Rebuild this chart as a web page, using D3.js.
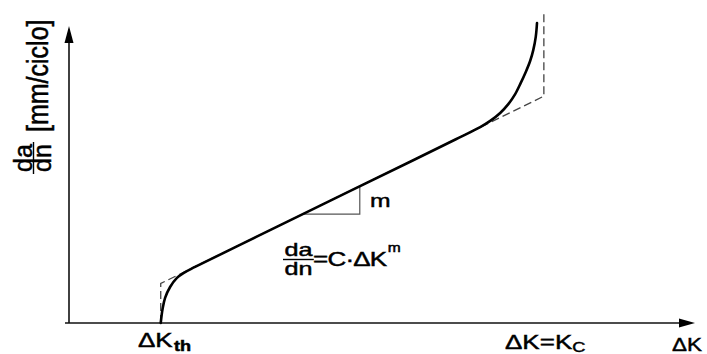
<!DOCTYPE html>
<html lang="en">
<head>
    <meta charset="UTF-8">
    <title>da/dn vs ΔK</title>
    <script src="https://d3js.org/d3.v7.min.js"></script>
    <style>
        body { margin: 0; background: #fff; }
        text { font-family: "Liberation Sans", Arial, sans-serif; fill: #000; stroke: #000; stroke-width: 0.45; }
    </style>
</head>
<body>
    <div id="chart"></div>
    <script>
        // Schematic crack growth curve (abstract units)
        const curveK    = [14.7, 15.0, 15.4, 16.2, 17.3, 18.4, 20.2, 30.0, 45.0, 55.0, 62.0, 65.9,
                           67.5, 69.1, 70.4, 71.5, 72.4, 73.2, 73.9, 74.4, 74.8, 75.0];
        const curveRate = [0.0, 4.8, 8.5, 12.2, 15.3, 17.0, 19.0, 29.2, 44.7, 55.0, 62.3, 66.4,
                           68.5, 71.2, 74.2, 77.6, 81.4, 85.1, 88.8, 92.5, 97.0, 101.7];

        // Asymptotes (dashed): threshold, Paris line, critical
        const asymK    = [14.7, 14.7, 76.1, 76.1];
        const asymRate = [0.0, 13.4, 76.9, 104.8];

        // Slope triangle on the Paris line
        const triK    = [37.5, 46.6, 46.6];
        const triRate = [36.9, 36.9, 46.3];

        const xLabelKth = ["ΔK", "th"];
        const xLabelKc  = ["ΔK=K", "C"];
        const xAxisLabel = "ΔK";
        const yLabelFrac = ["da", "dn"];
        const yLabelUnit = "[mm/ciclo]";

        const width = 707;
        const height = 354;

        const svg = d3.select("#chart")
            .append("svg")
            .attr("width", width)
            .attr("height", height);

        const xScale = d3.scaleLinear().domain([0, 100]).range([69, 693]);
        const yScale = d3.scaleLinear().domain([0, 100]).range([323, 28]);

        // Axes with arrows
        const x0 = xScale(0), y0 = yScale(0);
        svg.append("line")
            .attr("x1", x0 - 4).attr("y1", y0)
            .attr("x2", 683).attr("y2", y0)
            .attr("stroke", "#111").attr("stroke-width", 1.6);
        svg.append("path")
            .attr("d", `M695,${y0} L679,${y0 - 4.5} L679,${y0 + 4.5} Z`)
            .attr("fill", "#000");

        svg.append("line")
            .attr("x1", x0).attr("y1", y0)
            .attr("x2", x0).attr("y2", 38)
            .attr("stroke", "#111").attr("stroke-width", 1.6);
        svg.append("path")
            .attr("d", `M${x0},26 L${x0 - 4.5},43 L${x0 + 4.5},43 Z`)
            .attr("fill", "#000");

        const line = d3.line().x(d => xScale(d[0])).y(d => yScale(d[1]));

        // Dashed asymptotes
        const asymData = asymK.map((k, i) => [k, asymRate[i]]);
        svg.append("path")
            .attr("d", line(asymData))
            .attr("fill", "none")
            .attr("stroke", "#444")
            .attr("stroke-width", 1.3)
            .attr("stroke-dasharray", "8,4");

        // Slope triangle
        const triData = triK.map((k, i) => [k, triRate[i]]);
        svg.append("path")
            .attr("d", line(triData))
            .attr("fill", "none")
            .attr("stroke", "#555")
            .attr("stroke-width", 1.2);

        // Main curve
        const curveData = curveK.map((k, i) => [k, curveRate[i]]);
        svg.append("path")
            .attr("d", d3.line()
                .x(d => xScale(d[0]))
                .y(d => yScale(d[1]))
                .curve(d3.curveCatmullRom.alpha(0.5))(curveData))
            .attr("fill", "none")
            .attr("stroke", "#000")
            .attr("stroke-width", 2.6)
            .attr("stroke-linecap", "round");

        // Labels (the source lettering is wide, so stretch horizontally)
        function stretched(x, y, s = 1.3) {
            return svg.append("g").attr("transform", `translate(${x},${y}) scale(${s},1)`);
        }

        const kth = stretched(138, 347).append("text").attr("font-size", 20);
        kth.append("tspan").text(xLabelKth[0]);
        kth.append("tspan").attr("font-size", 14).attr("font-weight", "bold")
            .attr("dx", 1).attr("dy", 4).text(xLabelKth[1]);

        const kc = stretched(505, 349).append("text").attr("font-size", 20);
        kc.append("tspan").text(xLabelKc[0]);
        kc.append("tspan").attr("font-size", 14).attr("dy", 3).text(xLabelKc[1]);

        stretched(672, 351, 1.18).append("text").attr("font-size", 19).text(xAxisLabel);

        stretched(370, 207).append("text").attr("font-size", 19).text("m");

        // Paris law formula
        const f = stretched(283, 0, 1.4);
        f.append("text").attr("x", 1).attr("y", 256.5).attr("font-size", 18).text("da");
        f.append("line").attr("x1", 0).attr("x2", 22).attr("y1", 259.5).attr("y2", 259.5)
            .attr("stroke", "#000").attr("stroke-width", 1.4);
        f.append("text").attr("x", 1).attr("y", 275.5).attr("font-size", 18).text("dn");
        const rhs = svg.append("g").attr("transform", "translate(313,266) scale(1.3,1)")
            .append("text").attr("font-size", 20).attr("letter-spacing", -0.6);
        rhs.append("tspan").text("=C·ΔK");
        rhs.append("tspan").attr("font-size", 12).attr("dy", -14).attr("dx", 1).text("m");

        // Y axis label, rotated
        const frac = svg.append("g").attr("transform", "translate(33.5,158) rotate(-90)");
        frac.append("text").attr("text-anchor", "middle").attr("y", -2).attr("font-size", 25).text(yLabelFrac[0]);
        frac.append("text").attr("text-anchor", "middle").attr("y", 17.5).attr("font-size", 25).text(yLabelFrac[1]);
        frac.append("line").attr("x1", -16).attr("x2", 16).attr("y1", 0).attr("y2", 0)
            .attr("stroke", "#000").attr("stroke-width", 1.4);

        svg.append("g").attr("transform", "translate(48,132) rotate(-90) scale(1,1.15)")
            .append("text").attr("font-size", 25).text(yLabelUnit);
    </script>
</body>
</html>
